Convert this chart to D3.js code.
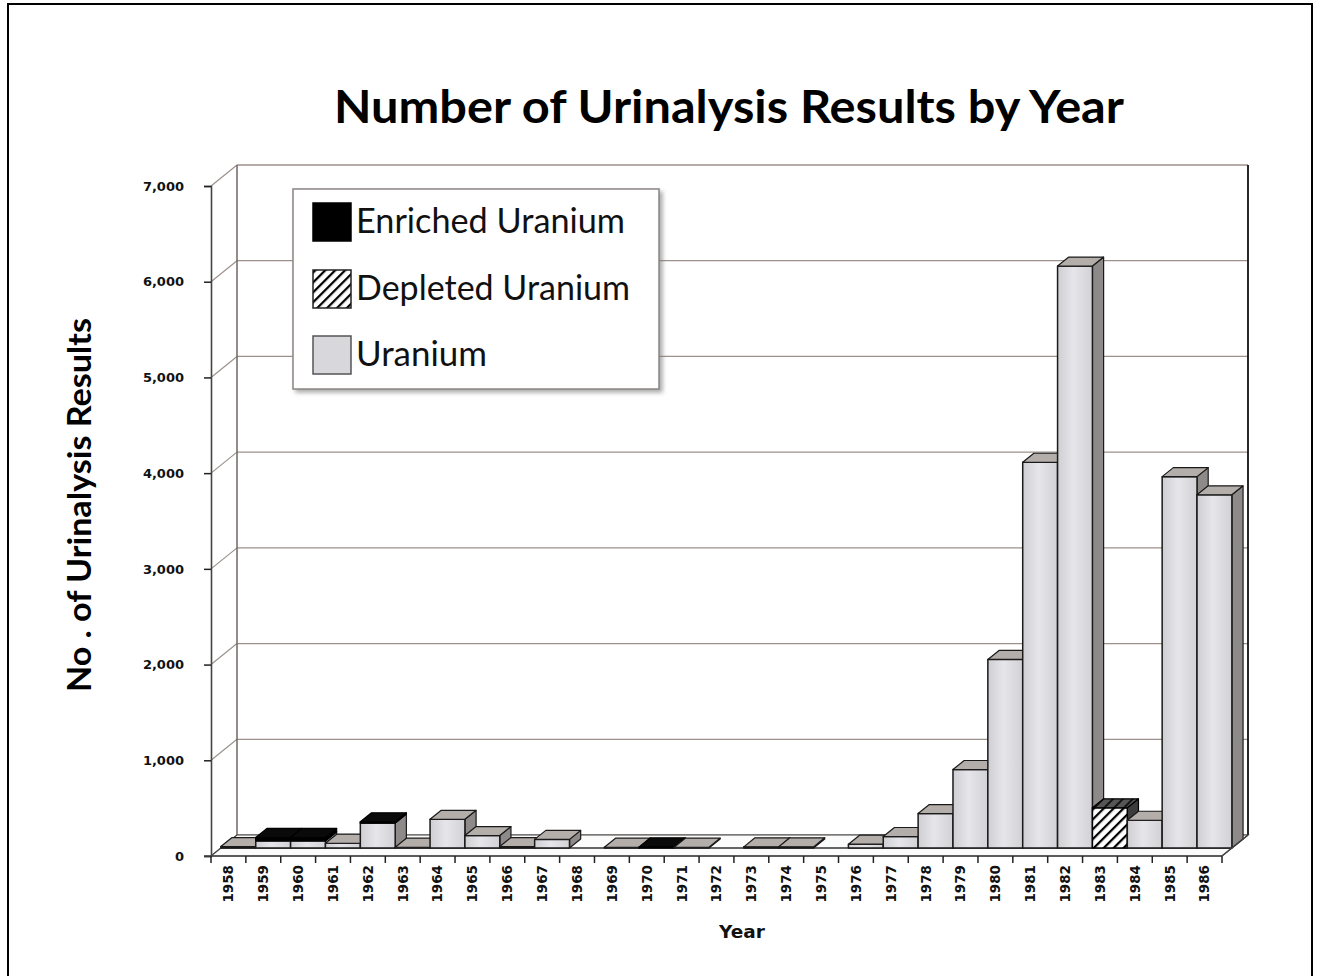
<!DOCTYPE html>
<html><head><meta charset="utf-8">
<script src="https://cdn.jsdelivr.net/npm/d3@7"></script>
<style>body{margin:0;background:#fff}svg{display:block}</style>
</head><body>
<svg id="c" width="1320" height="976"></svg>
<script>
// ---- data ----
const years = ["1958","1959","1960","1961","1962","1963","1964","1965","1966","1967","1968","1969","1970","1971","1972","1973","1974","1975","1976","1977","1978","1979","1980","1981","1982","1983","1984","1985","1986"];
const uranium  = [15,75,75,50,262,8,300,130,15,90,0,8,0,8,0,12,12,0,40,120,360,820,1970,4030,6080,0,290,3880,3690];
const depleted = [0,0,0,0,0,0,0,0,0,0,0,0,0,0,0,0,0,0,0,0,0,0,0,0,0,420,0,0,0];
const enriched = [0,35,35,0,12,0,0,0,0,0,0,0,12,0,0,0,0,0,0,0,0,0,0,0,0,0,0,0,0];
const yTicks = [0,1000,2000,3000,4000,5000,6000,7000];
const seriesNames = ["Enriched Uranium","Depleted Uranium","Uranium"];
const titleText = "Number of Urinalysis Results by Year";
const yTitle = "No . of Urinalysis Results";
const xTitle = "Year";

// ---- layout ----
const svg = d3.select("#c");
const x0 = 211, x1 = 1222, yBase = 856, yTop = 186;
const DX = 26, DY = -21;       // depth vector
const dF = 0.38, dB = 0.81;    // bar front/back depth
const x = d3.scaleBand().domain(years).range([x0, x1]).padding(0);
const y = d3.scaleLinear().domain([0, 7000]).range([yBase, yTop]);
const P = (xv, v, d) => [xv + DX * d, y(v) + DY * d];
const poly = pts => "M" + pts.map(p => p.join(",")).join("L") + "Z";

const defs = svg.append("defs");
const gU = defs.append("linearGradient").attr("id", "gradU");
gU.append("stop").attr("offset", "0%").attr("stop-color", "#cfcfd3");
gU.append("stop").attr("offset", "45%").attr("stop-color", "#e6e6ea");
gU.append("stop").attr("offset", "100%").attr("stop-color", "#d2d2d6");
function hatch(id, bg, fg, w) {
  const p = defs.append("pattern").attr("id", id).attr("patternUnits", "userSpaceOnUse")
    .attr("width", 7).attr("height", 7).attr("patternTransform", "rotate(45)");
  p.append("rect").attr("width", 7).attr("height", 7).attr("fill", bg);
  p.append("line").attr("x1", 0).attr("y1", 0).attr("x2", 0).attr("y2", 7)
    .attr("stroke", fg).attr("stroke-width", w);
}
hatch("hatch", "#fff", "#000", 4.5);
hatch("hatchDark", "#555", "#111", 4);
const sh = defs.append("filter").attr("id", "shadow").attr("x", "-5%").attr("y", "-5%").attr("width", "115%").attr("height", "115%");
sh.append("feDropShadow").attr("dx", 3).attr("dy", 3).attr("stdDeviation", 2).attr("flood-color", "#777").attr("flood-opacity", 0.6);

// outer frame
svg.append("path").attr("d", "M8,990V4H1312V990").attr("fill", "none").attr("stroke", "#000").attr("stroke-width", 2);

// ---- walls & grid ----
const gridC = "#9c918c";
const walls = svg.append("g");
walls.selectAll("line.bg").data(yTicks).join("line")
  .attr("x1", d => P(x0, d, 1)[0]).attr("y1", d => P(x0, d, 1)[1])
  .attr("x2", d => P(x1, d, 1)[0]).attr("y2", d => P(x1, d, 1)[1])
  .attr("stroke", gridC).attr("stroke-width", 1.3);
walls.selectAll("line.lw").data(yTicks).join("line")
  .attr("x1", d => P(x0, d, 0)[0]).attr("y1", d => P(x0, d, 0)[1])
  .attr("x2", d => P(x0, d, 1)[0]).attr("y2", d => P(x0, d, 1)[1])
  .attr("stroke", gridC).attr("stroke-width", 1.2);
walls.append("line").attr("x1", P(x0, 0, 1)[0]).attr("y1", P(x0, 0, 1)[1]).attr("x2", P(x0, 7000, 1)[0]).attr("y2", P(x0, 7000, 1)[1])
  .attr("stroke", "#6e6664").attr("stroke-width", 1.5);
walls.append("line").attr("x1", P(x1, 0, 1)[0]).attr("y1", P(x1, 0, 1)[1]).attr("x2", P(x1, 7000, 1)[0]).attr("y2", P(x1, 7000, 1)[1])
  .attr("stroke", "#111").attr("stroke-width", 1.8);
// floor
walls.append("path").attr("d", poly([P(x0, 0, 0), P(x1, 0, 0), P(x1, 0, 1), P(x0, 0, 1)]))
  .attr("fill", "#fbfbfb").attr("stroke", "#444").attr("stroke-width", 1.2);
walls.append("line").attr("x1", P(x0, 0, dF)[0]).attr("y1", P(x0, 0, dF)[1]).attr("x2", P(x1, 0, dF)[0]).attr("y2", P(x1, 0, dF)[1])
  .attr("stroke", "#333").attr("stroke-width", 1.3);

// ---- bars ----
const styles = {
  U: {front: "url(#gradU)", top: "#b4aeab", side: "#8f8a8a", stroke: "#1a1a1a"},
  D: {front: "url(#hatch)", top: "url(#hatchDark)", side: "#3c3c3c", stroke: "#000"},
  E: {front: "#000", top: "#0a0a0a", side: "#000", stroke: "#000"}
};
const barG = svg.append("g");
years.forEach((yr, i) => {
  const segs = [];
  let acc = 0;
  [["U", uranium[i]], ["D", depleted[i]], ["E", enriched[i]]].forEach(([k, v]) => {
    if (v > 0) { segs.push({k, v0: acc, v1: acc + v}); acc += v; }
  });
  const bx = x(yr), bw = x.bandwidth();
  const g = barG.append("g");
  segs.forEach(s => {
    const st = styles[s.k];
    g.append("path").attr("d", poly([P(bx + bw, s.v0, dF), P(bx + bw, s.v0, dB), P(bx + bw, s.v1, dB), P(bx + bw, s.v1, dF)]))
      .attr("fill", st.side).attr("stroke", st.stroke).attr("stroke-width", 1.2).attr("stroke-linejoin", "round");
    g.append("path").attr("d", poly([P(bx, s.v0, dF), P(bx + bw, s.v0, dF), P(bx + bw, s.v1, dF), P(bx, s.v1, dF)]))
      .attr("fill", st.front).attr("stroke", st.stroke).attr("stroke-width", 1.5).attr("stroke-linejoin", "round");
    g.append("path").attr("d", poly([P(bx, s.v1, dF), P(bx + bw, s.v1, dF), P(bx + bw, s.v1, dB), P(bx, s.v1, dB)]))
      .attr("fill", st.top).attr("stroke", st.stroke).attr("stroke-width", 1.2).attr("stroke-linejoin", "round");
  });
});

// ---- axes ----
const yAx = svg.append("g").attr("transform", `translate(${x0},0)`)
  .call(d3.axisLeft(y).tickValues(yTicks).tickSize(7).tickPadding(20).tickFormat(d3.format(",")));
yAx.select(".domain").attr("stroke", "#444").attr("stroke-width", 1.6);
yAx.selectAll(".tick line").attr("stroke", "#222").attr("stroke-width", 1.5);
yAx.selectAll("text").attr("font-family", "DejaVu Sans").attr("font-weight", "bold").attr("font-size", 13).attr("fill", "#111");

const xAx = svg.append("g").attr("transform", `translate(0,${yBase})`)
  .call(d3.axisBottom(x).tickSize(0).tickSizeOuter(0));
xAx.select(".domain").attr("d", `M${x0 - 7},0H${x1}`).attr("stroke", "#444").attr("stroke-width", 1.5);
xAx.selectAll("text").attr("transform", "rotate(-90)").attr("x", -9).attr("y", 0).attr("dy", "0.36em")
  .attr("text-anchor", "end").attr("font-family", "DejaVu Sans").attr("font-weight", "bold").attr("font-size", 13.5).attr("fill", "#111");
xAx.selectAll("line.bt").data(years.map(d => x(d)).concat([x1])).join("line").attr("class", "bt")
  .attr("x1", d => d).attr("x2", d => d).attr("y1", 0).attr("y2", 7).attr("stroke", "#222").attr("stroke-width", 1.5);
// right floor diagonal edge
svg.append("line").attr("x1", P(x1, 0, 0)[0]).attr("y1", P(x1, 0, 0)[1]).attr("x2", P(x1, 0, 1)[0]).attr("y2", P(x1, 0, 1)[1])
  .attr("stroke", "#444").attr("stroke-width", 1.3);

// ---- titles ----
svg.append("text").attr("x", 729).attr("y", 123).attr("text-anchor", "middle")
  .attr("font-family", "Lato").attr("font-weight", "bold").attr("font-size", 46)
  .attr("textLength", 790).attr("lengthAdjust", "spacingAndGlyphs").attr("fill", "#000").text(titleText);
svg.append("text").attr("transform", "translate(91,505) rotate(-90)").attr("text-anchor", "middle")
  .attr("font-family", "Lato").attr("font-weight", "bold").attr("font-size", 32)
  .attr("textLength", 374).attr("lengthAdjust", "spacingAndGlyphs").attr("fill", "#000").text(yTitle);
svg.append("text").attr("x", 742).attr("y", 938).attr("text-anchor", "middle")
  .attr("font-family", "DejaVu Sans").attr("font-weight", "bold").attr("font-size", 18.5).attr("fill", "#111").text(xTitle);

// ---- legend ----
const lg = svg.append("g");
lg.append("rect").attr("x", 293).attr("y", 189).attr("width", 366).attr("height", 200)
  .attr("fill", "#fff").attr("stroke", "#8a8482").attr("stroke-width", 1.5).attr("filter", "url(#shadow)");
const swFill = ["#000", "url(#hatch)", "#d8d8dc"];
const swStroke = ["#000", "#222", "#555"];
const rowY = [222, 289, 355];
const txtLen = [269, 274, 131];
seriesNames.forEach((n, i) => {
  lg.append("rect").attr("x", 313).attr("y", rowY[i] - 19).attr("width", 38).attr("height", 38)
    .attr("fill", swFill[i]).attr("stroke", swStroke[i]).attr("stroke-width", 1.5);
  lg.append("text").attr("x", 356).attr("y", rowY[i] + 11).attr("font-family", "Lato").attr("font-size", 35)
    .attr("textLength", txtLen[i]).attr("lengthAdjust", "spacingAndGlyphs").attr("fill", "#111").text(n);
});
</script>
</body></html>
